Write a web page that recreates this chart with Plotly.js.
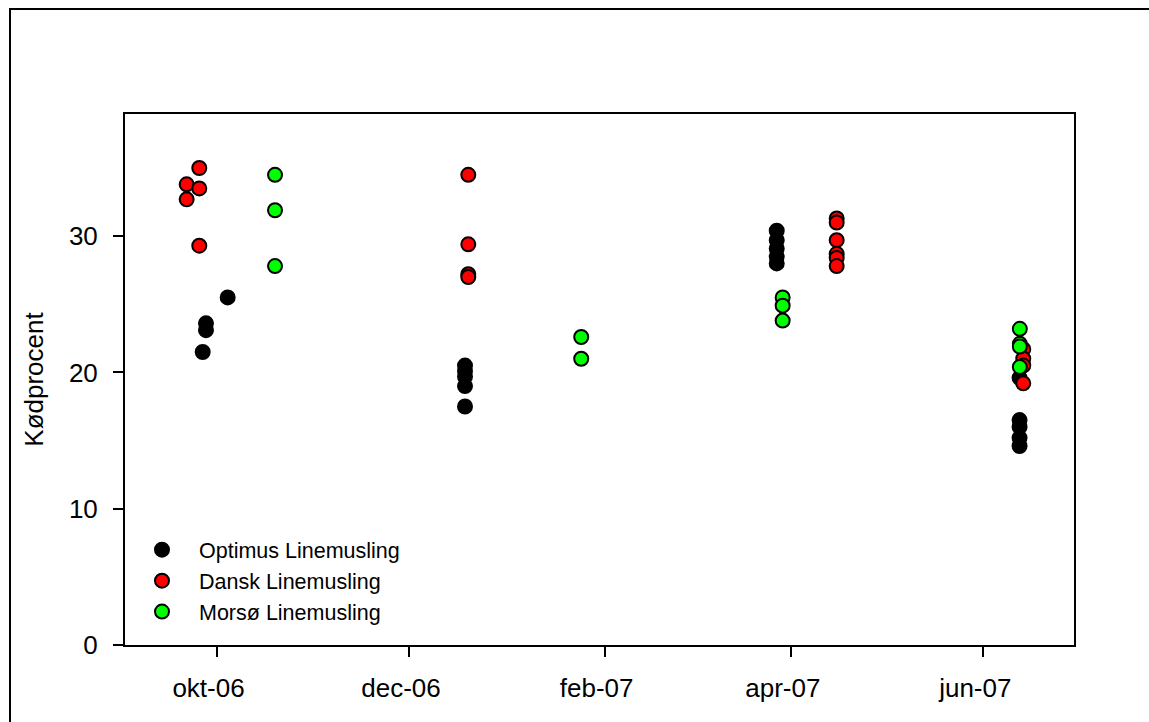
<!DOCTYPE html>
<html>
<head>
<meta charset="utf-8">
<script src="https://cdn.plot.ly/plotly-3.0.1.min.js"></script>
<style>
  html, body { margin: 0; padding: 0; background: #ffffff; }
  #chart { width: 1149px; height: 722px; }
</style>
</head>
<body>
<div id="chart"></div>
<script>
// Kødprocent (meat percentage) per sampling date for three mussel stocks

// Optimus Linemusling
const optimusDates = [
  '2006-09-26 15:00', '2006-09-27 16:00', '2006-09-27 16:00', '2006-10-04 13:00',
  '2006-12-18 18:00', '2006-12-18 18:00', '2006-12-18 18:00', '2006-12-18 18:00', '2006-12-18 18:00',
  '2007-03-27 13:00', '2007-03-27 13:00', '2007-03-27 13:00', '2007-03-27 13:00', '2007-03-27 13:00',
  '2007-06-12 12:00', '2007-06-12 12:00', '2007-06-12 12:00', '2007-06-12 12:00', '2007-06-12 12:00'
];
const optimusValues = [
  21.5, 23.6, 23.1, 25.5,
  20.5, 20.1, 19.7, 19.0, 17.5,
  30.4, 29.7, 29.1, 28.5, 28.0,
  19.6, 16.5, 16.0, 15.2, 14.6
];

// Dansk Linemusling
const danskDates = [
  '2006-09-21 13:00', '2006-09-21 13:00', '2006-09-25 13:00', '2006-09-25 13:00', '2006-09-25 13:00',
  '2006-12-19 19:00', '2006-12-19 19:00', '2006-12-19 19:00', '2006-12-19 19:00',
  '2007-04-15 13:00', '2007-04-15 13:00', '2007-04-15 13:00', '2007-04-15 13:00', '2007-04-15 13:00', '2007-04-15 13:00',
  '2007-06-13 16:00', '2007-06-13 16:00', '2007-06-13 16:00', '2007-06-13 16:00'
];
const danskValues = [
  33.8, 32.7, 35.0, 33.5, 29.3,
  34.5, 29.4, 27.2, 27.0,
  31.3, 31.0, 29.7, 28.7, 28.4, 27.8,
  21.7, 21.0, 20.5, 19.2
];

// Morsø Linemusling
const morsoDates = [
  '2006-10-19 13:00', '2006-10-19 13:00', '2006-10-19 13:00',
  '2007-01-24 14:00', '2007-01-24 14:00',
  '2007-03-29 10:00', '2007-03-29 10:00', '2007-03-29 10:00',
  '2007-06-12 14:00', '2007-06-12 14:00', '2007-06-12 14:00', '2007-06-12 14:00'
];
const morsoValues = [
  34.5, 31.9, 27.8,
  22.6, 21.0,
  25.5, 24.9, 23.8,
  23.2, 22.1, 21.9, 20.4
];

const seriesNames = ['Optimus Linemusling', 'Dansk Linemusling', 'Morsø Linemusling'];
const seriesColors = ['#000000', '#ff0000', '#00ff00'];

const monthTicks = ['2006-10-01', '2006-12-01', '2007-02-01', '2007-04-01', '2007-06-01'];
const monthLabels = ['okt-06', 'dec-06', 'feb-07', 'apr-07', 'jun-07'];
const valueTicks = [0, 10, 20, 30];

const FONT = 'Liberation Sans, Arial, Helvetica, sans-serif';

function series(x, y, i) {
  return {
    type: 'scatter',
    mode: 'markers',
    name: seriesNames[i],
    x: x,
    y: y,
    marker: {
      size: 14,
      color: seriesColors[i],
      line: { color: '#000000', width: 2 }
    },
    hoverinfo: 'x+y+name'
  };
}

const data = [
  series(optimusDates, optimusValues, 0),
  series(danskDates, danskValues, 1),
  series(morsoDates, morsoValues, 2)
];

const layout = {
  width: 1149,
  height: 722,
  margin: { l: 125, r: 75, t: 114, b: 77, pad: 0 },
  paper_bgcolor: '#ffffff',
  plot_bgcolor: '#ffffff',
  font: { family: FONT, color: '#000000', size: 24 },
  showlegend: true,
  legend: {
    x: 0.0, y: 0.218, xanchor: 'left', yanchor: 'top',
    bgcolor: 'rgba(0,0,0,0)',
    font: { family: FONT, size: 21.5, color: '#000000' },
    itemwidth: 64,
    tracegroupgap: 0
  },
  xaxis: {
    type: 'date',
    range: ['2006-09-02 00:00', '2007-06-29 18:00'],
    tickmode: 'array',
    tickvals: monthTicks,
    ticktext: monthLabels,
    ticks: 'outside',
    ticklen: 10,
    tickwidth: 2,
    tickcolor: '#000000',
    ticklabelshift: -8,
    ticklabelstandoff: 9,
    tickfont: { family: FONT, size: 26, color: '#000000' },
    showgrid: false,
    zeroline: false,
    showline: true,
    linecolor: '#000000',
    linewidth: 2,
    mirror: true
  },
  yaxis: {
    range: [0, 38.96],
    tickmode: 'array',
    tickvals: valueTicks,
    ticks: 'outside',
    ticklen: 10,
    tickwidth: 2,
    tickcolor: '#000000',
    ticklabelstandoff: 10,
    tickfont: { family: FONT, size: 26, color: '#000000' },
    showgrid: false,
    zeroline: false,
    showline: true,
    linecolor: '#000000',
    linewidth: 2,
    mirror: true,
    title: {
      text: 'Kødprocent',
      font: { family: FONT, size: 26, color: '#000000' },
      standoff: 18
    }
  },
  shapes: [
    {
      // outer figure frame
      type: 'rect', xref: 'paper', yref: 'paper',
      x0: (10 - 125) / 949, x1: (1175 - 125) / 949,
      y0: (645 - 740) / 531, y1: (645 - 9) / 531,
      line: { color: '#000000', width: 2 },
      fillcolor: 'rgba(0,0,0,0)',
      layer: 'below'
    }
  ]
};

Plotly.newPlot('chart', data, layout, { displayModeBar: false, staticPlot: true });
</script>
</body>
</html>
